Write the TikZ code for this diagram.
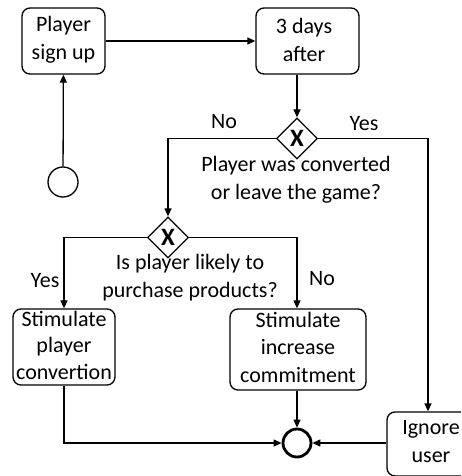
\documentclass[tikz,border=0pt]{standalone}
\usepackage{fontspec}
\setmainfont{Carlito}
\usetikzlibrary{arrows.meta,shapes.geometric}
\begin{document}
\begin{tikzpicture}[x=1pt,y=-1pt,
  every node/.style={font=\fontsize{22}{28}\selectfont, inner sep=0pt},
  task/.style={draw, rounded corners=8pt, line width=1.3pt, align=center},
  gw/.style={draw, diamond, line width=1.3pt, minimum width=41pt, minimum height=41pt, aspect=1, font=\bfseries\fontsize{25}{25}\selectfont},
  flow/.style={line width=1.3pt, -{Triangle[length=8pt,width=7pt]}},
  lbl/.style={align=center}]
\useasboundingbox (0,0) rectangle (461,476);
\clip (0,0) rectangle (461,476);
% tasks
\node[task, minimum width=83pt, minimum height=66pt] (signup) at (63.5,41) {};
\node[lbl] (signuptxt) at (63.5,40) {Player\\sign up};
\node[task, minimum width=103pt, minimum height=66pt] (days) at (307.5,41) {};
\node[lbl] (daystxt) at (304,40) {3 days\\after};
\node[task, minimum width=102pt, minimum height=76pt] (spc) at (64,347) {};
\node[lbl, font=\fontsize{22}{26.5}\selectfont] (spctxt) at (64,345) {Stimulate\\player\\convertion};
\node[task, minimum width=136pt, minimum height=81pt] (sic) at (298,349.5) {};
\node[lbl, font=\fontsize{22}{27.5}\selectfont] (sictxt) at (298,347) {Stimulate\\increase\\commitment};
\node[task, minimum width=88pt, minimum height=64pt] (ign) at (431,444) {};
\node[lbl] (igntxt) at (431,442) {Ignore\\user};
% events
\node[draw, circle, line width=1.3pt, minimum size=30pt] (start) at (63,182) {};
\node[draw, circle, line width=2.8pt, minimum size=28pt] (end) at (297,443) {};
% gateways
\node[gw] (gw1) at (297,138.5) {X};
\node[gw] (gw2) at (168,237.5) {X};
% labels
\node[lbl] (no1) at (224,122) {No};
\node[lbl] (yes1) at (364,124) {Yes};
\node[lbl] (q1) at (296,180) {Player was converted\\or leave the game?};
\node[lbl] (q2) at (190,278) {Is player likely to\\purchase products?};
\node[lbl] (yes2) at (45,281) {Yes};
\node[lbl] (no2) at (322,279) {No};
% corners
\coordinate (c1) at (168,138.5);
\coordinate (c2) at (428,138.5);
\coordinate (c3) at (64,237.5);
\coordinate (c4) at (297,237.5);
% flows
\draw[flow] (start) -- (signup);
\draw[flow] (signup) -- (days);
\draw[flow] (gw1.north |- days.south) -- (gw1.north);
\draw[flow] (gw1.west) -- (c1) -- (gw2.north);
\draw[flow] (gw1.east) -- (c2) -- (c2 |- ign.north);
\draw[flow] (gw2.west) -- (c3) -- (spc.north);
\draw[flow] (gw2.east) -- (c4) -- (c4 |- sic.north);
\draw[flow] (spc.south) -- (spc.south |- end.west) -- (end.west);
\draw[flow] (end.north |- sic.south) -- (end.north);
\draw[flow] (ign.west |- end.east) -- (end.east);
\end{tikzpicture}
\end{document}
